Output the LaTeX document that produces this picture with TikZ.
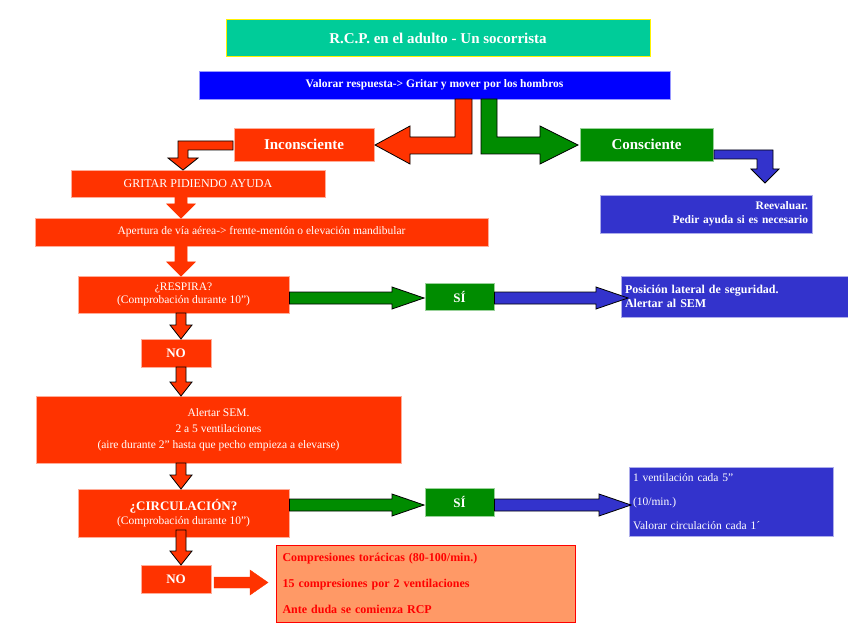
\documentclass[tikz,border=0pt]{standalone}
\usepackage{fontspec}
\setmainfont{Liberation Serif}
\definecolor{rred}{RGB}{255,51,0}
\definecolor{ggreen}{RGB}{0,140,0}
\definecolor{bblue}{RGB}{51,51,204}
\definecolor{pblue}{RGB}{0,0,255}
\definecolor{teal2}{RGB}{0,204,153}
\definecolor{salmon2}{RGB}{255,153,102}
\newcommand{\harr}[7]{% color, outline, xstart, xtip, ycenter, shaft half, head half; head length 30
\filldraw[fill=#1,draw=#2,line width=0.8pt] (#3,#5-#6) -- (#4-32,#5-#6) -- (#4-32,#5-#7) -- (#4,#5) -- (#4-32,#5+#7) -- (#4-32,#5+#6) -- (#3,#5+#6) -- cycle;}
\newcommand{\varr}[7]{% color, outline, ystart, ytip, xcenter, shaft half, head half; head length
\filldraw[fill=#1,draw=#2,line width=0.8pt] (#5-#6,#3) -- (#5-#6,#4-14) -- (#5-#7,#4-14) -- (#5,#4) -- (#5+#7,#4-14) -- (#5+#6,#4-14) -- (#5+#6,#3) -- cycle;}
\begin{document}
\begin{tikzpicture}[x=1pt,y=-1pt,
  box/.style={rectangle,inner sep=0pt,text=white,align=center,draw=white!60!#1,line width=0.6pt,fill=#1},
  bx/.style 2 args={}]
\useasboundingbox (0,0) rectangle (848,636);
% boxes
\node[box=teal2,draw=yellow,line width=1pt,minimum width=424,minimum height=37,font=\bfseries\fontsize{15}{17}\selectfont] (title) at (438,38.5) {R.C.P. en el adulto - Un socorrista};
\node[box=pblue,minimum width=471,minimum height=28,font=\bfseries\fontsize{11.5}{13}\selectfont] (val) at (434.5,85) {Valorar respuesta-> Gritar y mover por los hombros};
\node[box=rred,minimum width=140,minimum height=33,font=\bfseries\fontsize{15}{17}\selectfont] (inc) at (304,144.5) {Inconsciente};
\node[box=ggreen,minimum width=133,minimum height=33,font=\bfseries\fontsize{15}{17}\selectfont] (con) at (646.5,144.5) {Consciente};
\node[box=rred,minimum width=254,minimum height=27,font=\fontsize{12}{14}\selectfont] (grit) at (198,183.5) {GRITAR PIDIENDO AYUDA};
\node[box=rred,minimum width=453,minimum height=28,font=\fontsize{11.5}{13}\selectfont] (ap) at (261.5,232) {Apertura de vía aérea-> frente-mentón o elevación mandibular};
\node[box=bblue,minimum width=212,minimum height=38,font=\bfseries\fontsize{11.5}{13.5}\selectfont,align=right,text width=204] (reev) at (706,214) {Reevaluar.\\Pedir ayuda si es necesario};
\node[box=rred,minimum width=211,minimum height=37,font=\fontsize{11.5}{13}\selectfont] (resp) at (183.5,294.5) {¿RESPIRA?\\(Comprobación durante 10”)};
\node[box=ggreen,minimum width=69,minimum height=27,font=\bfseries\fontsize{13}{15}\selectfont] (si1) at (459.5,296.5) {SÍ};
\node[box=bblue,minimum width=228,minimum height=41,font=\bfseries\fontsize{12}{13.5}\selectfont,align=left,text width=220] (pos) at (735,296.5) {Posición lateral de seguridad.\\Alertar al SEM};
\node[box=rred,minimum width=70,minimum height=28,font=\bfseries\fontsize{13}{15}\selectfont] (no1) at (176,353) {NO};
\node[box=rred,minimum width=365,minimum height=67,font=\fontsize{11.5}{16}\selectfont] (alert) at (218.5,429.5) {Alertar SEM.\\2 a 5 ventilaciones\\(aire durante 2” hasta que pecho empieza a elevarse)};
\node[box=rred,minimum width=211,minimum height=48,font=\fontsize{11.5}{14}\selectfont] (circ) at (183.5,513) {{\bfseries\fontsize{13}{15}\selectfont ¿CIRCULACIÓN?}\\(Comprobación durante 10”)};
\node[box=ggreen,minimum width=69,minimum height=28,font=\bfseries\fontsize{13}{15}\selectfont] (si2) at (459.5,502) {SÍ};
\node[box=bblue,minimum width=204,minimum height=69,font=\fontsize{11.5}{24}\selectfont,align=left,text width=196] (vent) at (731,501.5) {1 ventilación cada 5”\\(10/min.)\\Valorar circulación cada 1´};
\node[box=rred,minimum width=70,minimum height=28,font=\bfseries\fontsize{13}{15}\selectfont] (no2) at (176,579) {NO};
\node[box=salmon2,draw=red,line width=1pt,text=red,minimum width=299,minimum height=77,font=\bfseries\fontsize{12}{26}\selectfont,align=left,text width=286] (comp) at (425.5,583.5) {Compresiones torácicas (80-100/min.)\\15 compresiones por 2 ventilaciones\\Ante duda se comienza RCP};
% block arrows
\filldraw[fill=rred,draw=black,line width=0.8pt] (472,99) -- (472,154) -- (410,154) -- (410,164) -- (375,145) -- (410,126) -- (410,137) -- (455,137) -- (455,99) -- cycle;
\filldraw[fill=ggreen,draw=black,line width=0.8pt] (481,99) -- (481,154) -- (540,154) -- (540,164) -- (578,145) -- (540,126) -- (540,137) -- (497,137) -- (497,99) -- cycle;
\filldraw[fill=rred,draw=black,line width=0.8pt] (233,141) -- (178,141) -- (178,158) -- (168,158) -- (183,170) -- (198,158) -- (188,158) -- (188,150) -- (233,150) -- cycle;
\filldraw[fill=bblue,draw=black,line width=0.8pt] (714,150) -- (773,150) -- (773,169) -- (779,169) -- (765,183) -- (751,169) -- (757,169) -- (757,159) -- (714,159) -- cycle;
\varr{rred}{rred}{197.5}{218}{181}{6}{14}
\varr{rred}{rred}{246.5}{276}{181}{6}{14}
\varr{rred}{black}{313}{339}{181}{5}{11}
\varr{rred}{black}{367}{396}{181}{5}{11}
\varr{rred}{black}{463}{489}{181}{5}{11}
\varr{rred}{black}{530}{565}{181}{5}{11}
\harr{ggreen}{black}{289.5}{424}{298}{6}{11}
\harr{bblue}{black}{494.5}{628}{298}{6}{11}
\harr{ggreen}{black}{289.5}{424}{505}{6}{11}
\harr{bblue}{black}{494.5}{631}{505}{6}{11}
\filldraw[fill=rred,draw=rred] (214,577) -- (250,577) -- (250,570) -- (268,582.5) -- (250,595) -- (250,588) -- (214,588) -- cycle;
\end{tikzpicture}
\end{document}
